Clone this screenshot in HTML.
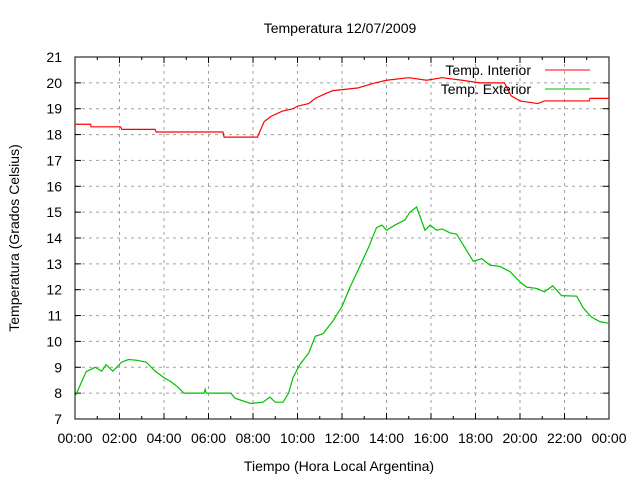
<!DOCTYPE html>
<html><head><meta charset="utf-8"><style>
body{margin:0;background:#fff}
svg{display:block;font-family:"Liberation Sans",sans-serif;font-size:14px}
</style></head><body>
<svg id="chart" width="640" height="480">
<text x="340" y="33" text-anchor="middle">Temperatura 12/07/2009</text>
<text x="339" y="471" text-anchor="middle">Tiempo (Hora Local Argentina)</text>
<text transform="translate(19,238) rotate(-90)" text-anchor="middle">Temperatura (Grados Celsius)</text>
<g id="grid"></g>
<g id="axes"></g>
<g id="series"></g>
<g>
<text x="531" y="75" text-anchor="end">Temp. Interior</text>
<line x1="545" y1="70" x2="590" y2="70" stroke="#ff0000"/>
<text x="531" y="94" text-anchor="end">Temp. Exterior</text>
<line x1="545" y1="89" x2="590" y2="89" stroke="#00c000"/>
</g>
</svg>
<script>
const yTicks=[7,8,9,10,11,12,13,14,15,16,17,18,19,20,21];
const xTickHours=[0,2,4,6,8,10,12,14,16,18,20,22,24];
const xTickLabels=["00:00","02:00","04:00","06:00","08:00","10:00","12:00","14:00","16:00","18:00","20:00","22:00","00:00"];
const interiorHours=[0,0.7,0.72,2.05,2.1,3.6,3.65,6.65,6.7,8.2,8.5,8.8,9.3,9.8,10.0,10.5,10.8,11.3,11.6,12.7,13.1,13.5,14.0,15.0,15.8,16.5,17.4,18.2,19.3,19.6,20.0,20.8,21.1,23.1,23.15,24];
const interiorTemps=[18.4,18.4,18.3,18.3,18.2,18.2,18.1,18.1,17.9,17.9,18.5,18.7,18.9,19.0,19.1,19.2,19.4,19.6,19.7,19.8,19.9,20.0,20.1,20.2,20.1,20.2,20.1,20.0,20.0,19.5,19.3,19.2,19.3,19.3,19.4,19.4];
const exteriorHours=[0,0.5,0.9,1.2,1.4,1.7,2.1,2.4,2.8,3.2,3.6,4.0,4.3,4.6,4.9,5.8,5.85,5.9,7.0,7.2,7.9,8.45,8.76,9.0,9.35,9.6,9.8,10.1,10.5,10.8,11.15,11.6,12.0,12.36,12.8,13.2,13.55,13.8,14.0,14.38,14.83,15.05,15.35,15.73,15.96,16.25,16.5,16.85,17.15,17.5,17.9,18.28,18.65,19.1,19.55,20.0,20.3,20.75,21.1,21.47,21.87,22.55,22.84,23.2,23.6,24];
const exteriorTemps=[7.86,8.83,9.0,8.85,9.1,8.85,9.2,9.3,9.27,9.2,8.85,8.6,8.45,8.25,8.0,8.0,8.15,8.0,8.0,7.8,7.6,7.65,7.85,7.65,7.65,8.0,8.6,9.1,9.55,10.2,10.3,10.8,11.35,12.1,12.9,13.65,14.4,14.5,14.3,14.5,14.7,15.0,15.2,14.3,14.5,14.3,14.35,14.2,14.15,13.66,13.1,13.2,12.95,12.9,12.7,12.3,12.1,12.05,11.92,12.15,11.77,11.75,11.3,10.95,10.76,10.7];
const L=75,R=609,T=57,B=419;
const xs=h=>L+(h/24)*(R-L);
const ys=v=>B-(v-7)/14*(B-T);
const NS="http://www.w3.org/2000/svg";
function mk(tag,parent,attrs){const e=document.createElementNS(NS,tag);for(const k in attrs)e.setAttribute(k,attrs[k]);parent.appendChild(e);return e;}
const grid=document.getElementById('grid'),axes=document.getElementById('axes'),series=document.getElementById('series');
yTicks.forEach((v,i)=>{const y=ys(v);
 if(i>0&&i<yTicks.length-1){const g=mk('line',grid,{x1:L,x2:R,y1:y,y2:y,stroke:'#a0a0a0','stroke-dasharray':'3,4'});
 
 }
 mk('line',axes,{x1:L,x2:L+6,y1:y,y2:y,stroke:'#000'});mk('line',axes,{x1:R-6,x2:R,y1:y,y2:y,stroke:'#000'});
 const t=mk('text',axes,{x:62,y:y+5,'text-anchor':'end'});t.textContent=v;
 
 });
xTickHours.forEach((h,i)=>{const x=xs(h);
 if(i>0&&i<xTickHours.length-1){const g=mk('line',grid,{x1:x,x2:x,y1:T,y2:B,stroke:'#a0a0a0','stroke-dasharray':'3,4'});
 
 }
 mk('line',axes,{x1:x,x2:x,y1:B,y2:B-6,stroke:'#000'});mk('line',axes,{x1:x,x2:x,y1:T,y2:T+6,stroke:'#000'});
 const t=mk('text',axes,{x:x,y:443,'text-anchor':'middle'});t.textContent=xTickLabels[i];
 
 
 if(h<24){const m=xs(h+1);mk('line',axes,{x1:m,x2:m,y1:B,y2:B-3,stroke:'#000'});mk('line',axes,{x1:m,x2:m,y1:T,y2:T+3,stroke:'#000'});}});
const frame=mk('rect',axes,{x:L,y:T,width:R-L,height:B-T,fill:'none',stroke:'#000'});


const pi=mk('polyline',series,{points:interiorHours.map((h,i)=>xs(h)+','+ys(interiorTemps[i])).join(' '),fill:'none',stroke:'#ff0000','stroke-width':1.2});


const pe=mk('polyline',series,{points:exteriorHours.map((h,i)=>xs(h)+','+ys(exteriorTemps[i])).join(' '),fill:'none',stroke:'#00c000','stroke-width':1.2});


</script>
</body></html>
